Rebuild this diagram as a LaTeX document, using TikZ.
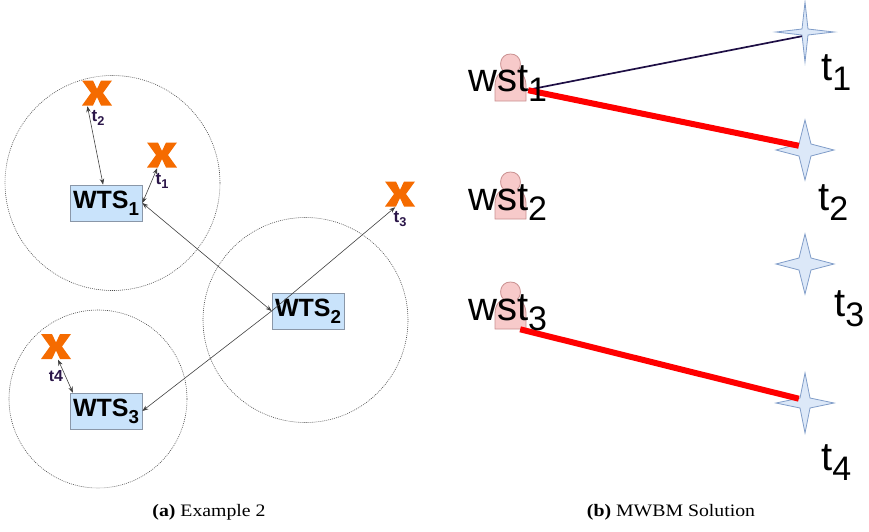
\documentclass[tikz,border=0pt]{standalone}
\usepackage{fontspec}
\setmainfont{Liberation Serif}
\setsansfont{Liberation Sans}
\newfontfamily\captfont[FakeStretch=1.13]{Liberation Serif}
\usetikzlibrary{arrows.meta}
\definecolor{boxblue}{HTML}{C9E3FB}
\definecolor{boxedge}{HTML}{8A97A8}
\definecolor{xorange}{HTML}{F56B00}
\definecolor{labdark}{HTML}{2A1548}
\definecolor{starfill}{HTML}{DCE8F8}
\definecolor{staredge}{HTML}{7F9CC8}
\definecolor{pfill}{HTML}{F7CACA}
\definecolor{pedge}{HTML}{C99090}
\definecolor{darkline}{HTML}{1E0F45}
\newcommand{\lowsub}[1]{\raisebox{-.27em}{\scalebox{.75}{#1}}}
\newcommand{\bigsub}[1]{\raisebox{-.25em}{\scalebox{.85}{#1}}}
\tikzset{
 wtsbox/.style={draw=boxedge,fill=boxblue,line width=.7pt,minimum width=72pt,minimum height=36pt,inner sep=0pt,font=\sffamily\bfseries\fontsize{25}{25}\selectfont},
 rangecircle/.style={circle,draw=black!70,dash pattern=on .9pt off 1.1pt,line width=.6pt,inner sep=0pt},
 xmark/.style={minimum width=30pt,minimum height=26pt,inner sep=0pt},
 linkline/.style={draw=black!75,line width=.6pt,{Stealth[length=6pt,width=4.5pt]}-{Stealth[length=6pt,width=4.5pt]}},
 linkone/.style={draw=black!75,line width=.6pt,-{Stealth[length=6pt,width=4.5pt]}},
 tlab/.style={font=\sffamily\bfseries\fontsize{17}{17}\selectfont,text=labdark,inner sep=0pt},
 biglab/.style={font=\sffamily\fontsize{40}{40}\selectfont,inner sep=0pt,text=black},
 anchorpt/.style={minimum size=2pt,inner sep=0pt},
 capt/.style={font=\captfont\fontsize{17.5}{17.5}\selectfont,inner sep=0pt},
 thinedge/.style={draw=darkline,line width=1.7pt},
 thickedge/.style={draw=red,line width=6pt}
}
\newcommand{\xshape}[1]{\fill[xorange,shift={(#1)}] (-15,-12.5)--(-4,-12.5)--(0,-4)--(4,-12.5)--(15,-12.5)--(6,0)--(15,12.5)--(4,12.5)--(0,4)--(-4,12.5)--(-15,12.5)--(-6,0)--cycle;}
\newcommand{\starshape}[2]{\filldraw[fill=starfill,draw=staredge,line width=.8pt,shift={(#1)}] (0,-30)--(#2,-#2)--(29,0)--(#2,#2)--(0,30)--(-#2,#2)--(-29,0)--(-#2,-#2)--cycle;}
\newcommand{\personshape}[1]{\filldraw[fill=pfill,draw=pedge,line width=.8pt,shift={(#1)}] (-15.5,23) -- (-15.5,8) .. controls (-15.5,-2) and (-10,-6) .. (-7,-7) .. controls (-12,-11) and (-11,-24) .. (0,-24) .. controls (11,-24) and (12,-11) .. (7,-7) .. controls (10,-6) and (15.5,-2) .. (15.5,8) -- (15.5,23) -- cycle;}
\begin{document}
\begin{tikzpicture}[x=1pt,y=-1pt]
\useasboundingbox (0,0) rectangle (869,531);
% range circles
\node[rangecircle,minimum size=215pt] (c1) at (112.5,183) {};
\node[rangecircle,minimum size=205pt] (c2) at (305.5,320) {};
\node[rangecircle,minimum size=178pt] (c3) at (98,399) {};
% X marks
\xshape{97,93}\xshape{162,155}\xshape{400,194}\xshape{56,346.5}
\node[xmark] (x2) at (97,93) {};
\node[xmark] (x1) at (162,155) {};
\node[xmark] (x3) at (400,194) {};
\node[xmark] (x4) at (56,346.5) {};
% boxes
\node[wtsbox] (w1) at (106,203) {WTS\lowsub{1}};
\node[wtsbox] (w2) at (308,311) {WTS\lowsub{2}};
\node[wtsbox] (w3) at (106,411) {WTS\lowsub{3}};
% links
\draw[linkline] (x2.234) -- (w1.99);
\draw[linkline] (x1.250) -- (w1.east);
\draw[linkline] (w1.east) -- (w2.west);
\draw[linkone] (w2.west) -- (x3.250);
\draw[linkone] (w2.west) -- (w3.east);
\draw[linkline] (x4.-81) -- (w3.151);
% t labels
\node[tlab] (l2) at (98,118) {t\lowsub{2}};
\node[tlab] (l1) at (162,181) {t\lowsub{1}};
\node[tlab] (l3) at (400,219) {t\lowsub{3}};
\node[tlab,font=\sffamily\bfseries\fontsize{16}{16}\selectfont] (l4) at (56,376) {t4};
% right part
\personshape{510.5,78}\personshape{510.5,196}\personshape{510.5,306}
\starshape{805,32}{3}\starshape{805,150}{6}\starshape{805,264}{6}\starshape{805,403}{5}
\node[anchorpt] (p1) at (527,90) {};
\node[anchorpt] (p3) at (519,329) {};
\node[anchorpt] (s1) at (803,36) {};
\node[anchorpt] (s2) at (800,146) {};
\node[anchorpt] (s4) at (800,399) {};
\draw[thinedge] (p1) -- (s1);
\draw[thickedge] (p1) -- (s2);
\draw[thickedge] (p3) -- (s4);
\node[biglab,anchor=base west] (n1) at (468,91) {wst\bigsub{1}};
\node[biglab,anchor=base west] (n2) at (468,210) {wst\bigsub{2}};
\node[biglab,anchor=base west] (n3) at (468,320) {wst\bigsub{3}};
\node[biglab,anchor=base west] (q1) at (821,80) {t\bigsub{1}};
\node[biglab,anchor=base west] (q2) at (818,210) {t\bigsub{2}};
\node[biglab,anchor=base west] (q3) at (834,316) {t\bigsub{3}};
\node[biglab,anchor=base west] (q4) at (821,470) {t\bigsub{4}};
% captions
\node[capt] (ca) at (209,512) {\textbf{(a)} Example 2};
\node[capt] (cb) at (671,512) {\textbf{(b)} MWBM Solution};
\end{tikzpicture}
\end{document}
